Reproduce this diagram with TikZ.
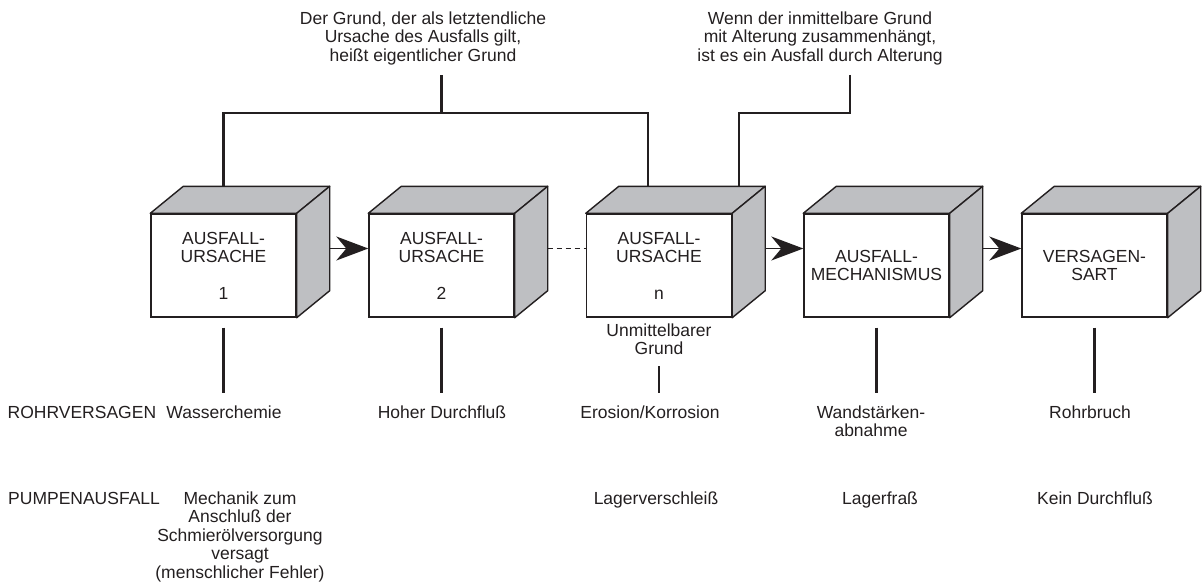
\documentclass[tikz,border=0pt]{standalone}
\usepackage{fontspec}
\setmainfont{Liberation Sans}
\usetikzlibrary{arrows.meta}
\definecolor{cubegray}{RGB}{190,191,194}
\definecolor{ink}{RGB}{35,31,32}

\begin{document}
\begin{tikzpicture}[x=1pt,y=-1pt,
    every node/.style={text=ink, font=\fontsize{17.5}{18.5}\selectfont},
    cube/.style={draw=ink, line width=1.4pt, fill=white, minimum width=145pt, minimum height=103pt, align=center, inner sep=0pt},
    face/.style={draw=ink, line width=1.4pt, fill=cubegray, line join=round},
    conn/.style={draw=ink, line width=2.5pt},
    flow/.style={draw=ink, line width=1.4pt, -{Stealth[length=32pt,width=24pt,inset=10pt]}},
    lbl/.style={anchor=base, align=center},
    note/.style={lbl, inner sep=10pt}]

\useasboundingbox (0,0) rectangle (1202,582);

% cubes
\node[cube] (c1) at (223.5,265.5) {AUSFALL-\\URSACHE\\[18pt]1};
\node[cube] (c2) at (441.5,265.5) {AUSFALL-\\URSACHE\\[18pt]2};
\node[cube] (cn) at (659,265.5) {AUSFALL-\\URSACHE\\[18pt]n};
\node[cube] (mech) at (876.5,265.5) {AUSFALL-\\MECHANISMUS};
\node[cube] (art) at (1094.5,265.5) {VERSAGEN-\\SART};
\foreach \c in {c1,c2,cn,mech,art}{
  \draw[face] (\c.north west) -- ++(33,-27) -- ([shift={(33,-27)}]\c.north east) -- (\c.north east) -- cycle;
  \draw[face] (\c.north east) -- ++(33,-27) -- ([shift={(33,-27)}]\c.south east) -- (\c.south east) -- cycle;
}

% flow between cubes
\draw[flow] ([shift={(33,-17)}]c1.east) -- ([yshift=17pt]c2.west);
\draw[draw=ink, line width=1.4pt, dash pattern=on 5pt off 4pt] ([shift={(33,-17)}]c2.east) -- ([yshift=17pt]cn.west);
\draw[flow] ([shift={(33,-17)}]cn.east) -- ([yshift=17pt]mech.west);
\draw[flow] ([shift={(33,-17)}]mech.east) -- ([yshift=17pt]art.west);

% notes on top (base = last line)
\node[note] (ultimate) at (423,61) {Der Grund, der als letztendliche\\Ursache des Ausfalls gilt,\\heißt eigentlicher Grund};
\node[note] (aging) at (820,61) {Wenn der inmittelbare Grund\\mit Alterung zusammenhängt,\\ist es ein Ausfall durch Alterung};
\coordinate (j1) at (441.5,113);
\coordinate (j2) at (850,113);
\draw[conn] ([yshift=27pt]c1.north) |- (j1) -| ([shift={(-11,-27)}]cn.north);
\draw[conn] (j1) -- (j1 |- ultimate.south);
\draw[conn] (j2 |- aging.south) -- (j2) -| ([shift={(7,-27)}]cn.north east);

% lines down to the examples
\coordinate (r1) at (0,393);
\draw[conn] ([yshift=-10pt]c1.south) -- (c1.south |- r1);
\draw[conn] ([yshift=-10pt]c2.south) -- (c2.south |- r1);
\draw[conn] ([yshift=-10pt]mech.south) -- (mech.south |- r1);
\draw[conn] ([yshift=-10pt]art.south) -- (art.south |- r1);
\node[lbl] (direct) at (659,354.5) {Unmittelbarer\\Grund};
\draw[conn] ([yshift=-8pt]direct.south) -- (direct.south |- r1);

% examples
\node[lbl, anchor=base west, inner sep=0pt] (pipe) at (7.5,418) {ROHRVERSAGEN};
\node[lbl] (water) at (224,418) {Wasserchemie};
\node[lbl] (flowhigh) at (442,418) {Hoher Durchfluß};
\node[lbl] (erosion) at (650,418) {Erosion/Korrosion};
\node[lbl] (wall) at (871,436.5) {Wandstärken-\\abnahme};
\node[lbl] (rupture) at (1090,418) {Rohrbruch};

\node[lbl, anchor=base west, inner sep=0pt] (pump) at (8,504) {PUMPENAUSFALL};
\node[lbl] (mechanik) at (240,578) {Mechanik zum\\Anschluß der\\Schmierölversorgung\\versagt\\(menschlicher Fehler)};
\node[lbl] (wear) at (656,504) {Lagerverschleiß};
\node[lbl] (seize) at (880,504) {Lagerfraß};
\node[lbl] (noflow) at (1095,504) {Kein Durchfluß};
\end{tikzpicture}
\end{document}
